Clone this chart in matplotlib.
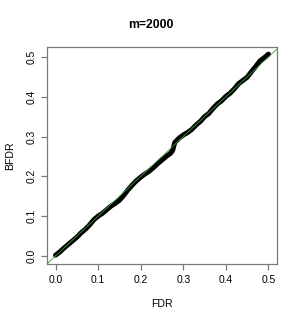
import matplotlib
matplotlib.use("Agg")
import matplotlib.pyplot as plt

plt.rcParams['font.family'] = ['Liberation Sans', 'DejaVu Sans']

title = "m=2000"
xlabel = "FDR"
ylabel = "BFDR"
xticks = [0.0, 0.1, 0.2, 0.3, 0.4, 0.5]
yticks = [0.0, 0.1, 0.2, 0.3, 0.4, 0.5]

fdr = [0.000, 0.010, 0.020, 0.030, 0.040, 0.050, 0.060, 0.070, 0.080, 0.090,
       0.100, 0.110, 0.120, 0.130, 0.140, 0.150, 0.160, 0.170, 0.180, 0.190,
       0.200, 0.210, 0.220, 0.230, 0.240, 0.250, 0.260, 0.270, 0.275, 0.280,
       0.290, 0.300, 0.310, 0.320, 0.330, 0.340, 0.350, 0.360, 0.370, 0.380,
       0.390, 0.400, 0.410, 0.420, 0.430, 0.440, 0.450, 0.460, 0.470, 0.480,
       0.490, 0.500]
bfdr = [0.002, 0.010, 0.020, 0.029, 0.038, 0.047, 0.058, 0.067, 0.078, 0.091,
        0.100, 0.107, 0.116, 0.125, 0.132, 0.140, 0.152, 0.166, 0.178, 0.189,
        0.198, 0.206, 0.213, 0.222, 0.232, 0.241, 0.250, 0.258, 0.265, 0.285,
        0.296, 0.304, 0.310, 0.318, 0.329, 0.338, 0.350, 0.358, 0.371, 0.382,
        0.390, 0.401, 0.409, 0.420, 0.433, 0.441, 0.449, 0.463, 0.476, 0.490,
        0.498, 0.507]

W, H = 301, 323
fig = plt.figure(figsize=(W / 100, H / 100), dpi=100)
ax = fig.add_axes([47 / W, 1 - 264 / H, (277 - 47) / W, (264 - 46.5) / H])

ax.plot([-1, 1], [-1, 1], color='#3c9a3c', lw=0.6, zorder=3)
ax.plot(fdr, bfdr, color='black', lw=3.6, solid_capstyle='round',
        solid_joinstyle='round', zorder=2)

ax.set_xlim(-0.02, 0.52)
ax.set_ylim(-0.0202, 0.5262)
ax.set_xticks(xticks)
ax.set_yticks(yticks)
ax.set_xticklabels([f"{v:.1f}" for v in xticks])
ax.set_yticklabels([f"{v:.1f}" for v in yticks], rotation=90, va='center')

gray = '#7a7a7a'
for s in ax.spines.values():
    s.set_color(gray)
    s.set_linewidth(0.9)
ax.tick_params(direction='out', length=4.3, width=0.9, color=gray,
               labelsize=7.4, pad=3.5)

ax.set_xlabel(xlabel, fontsize=7.6, labelpad=10)
ax.set_ylabel(ylabel, fontsize=7.6, labelpad=8)
fig.text(0.5, 1 - 25 / H, title, ha='center', va='center', fontsize=8.8,
         fontweight='bold')

fig.savefig("out.png", dpi=100)
